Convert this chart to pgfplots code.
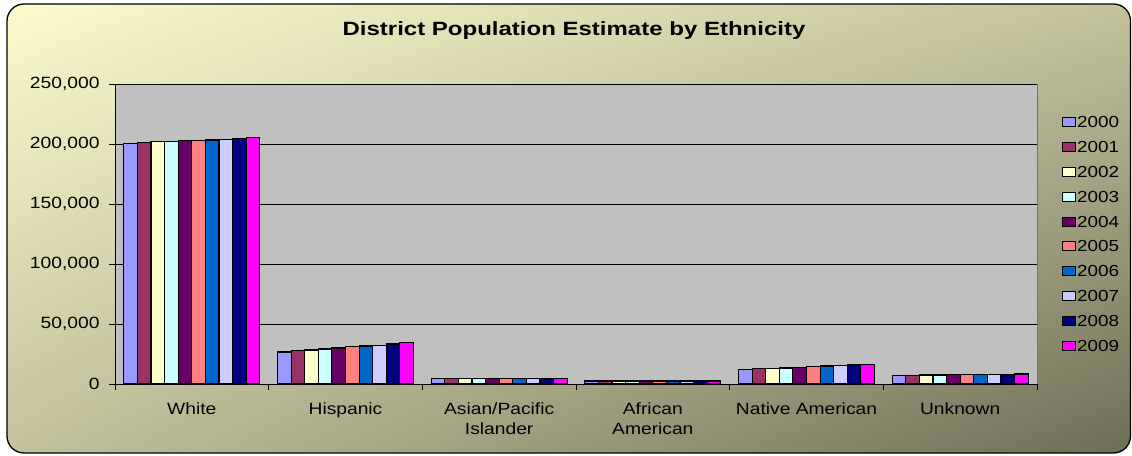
\documentclass[border=0pt]{standalone}
\usepackage{fontspec}
\setmainfont[FakeStretch=1.18]{Liberation Sans}
\newfontfamily\titlefont[FakeStretch=1.25]{Liberation Sans}
\usepackage{pgfplots}
\usepackage{pgfplotstable}
\usetikzlibrary{shadings}
\pgfplotsset{compat=1.18}
\pgfdeclarelayer{background}
\pgfsetlayers{background,main}

\definecolor{cA}{HTML}{9999FF}
\definecolor{cB}{HTML}{993366}
\definecolor{cC}{HTML}{FFFFCC}
\definecolor{cD}{HTML}{CCFFFF}
\definecolor{cE}{HTML}{660066}
\definecolor{cF}{HTML}{FF8080}
\definecolor{cG}{HTML}{0066CC}
\definecolor{cH}{HTML}{CCCCFF}
\definecolor{cI}{HTML}{000080}
\definecolor{cJ}{HTML}{FF00FF}
\definecolor{plotgray}{HTML}{C0C0C0}
\definecolor{bgUL}{HTML}{FCFBCE}
\definecolor{bgMid}{HTML}{C3C29D}
\definecolor{bgLR}{HTML}{6E6E56}

% population by ethnicity (rows) and year (columns)
\pgfplotstableread{
idx y2000  y2001  y2002  y2003  y2004  y2005  y2006  y2007  y2008  y2009
0   200550 201050 201900 201900 202750 203100 203300 203900 204750 205250
1   26700  27800  28300  29200  30000  31100  31700  32200  33300  34500
2   4400   4400   4400   4400   4400   4400   4400   4500   4600   4600
3   2500   2500   2500   2500   2500   2500   2500   2500   2500   2500
4   12200  12800  13100  13300  13900  14400  15000  15500  15800  16400
5   6900   7000   7500   7500   7800   7800   7800   7800   7900   8300
}\poptable

\begin{document}
\begin{tikzpicture}
\begin{axis}[
  name=ax,
  width=922pt, height=300pt, scale only axis,
  ybar=0pt, bar width=13.6pt,
  xmin=-0.5, xmax=5.5, ymin=0, ymax=250000,
  xtick={0,...,5},
  xticklabels={White,Hispanic,{Asian/Pacific\\Islander},{African\\American},Native American,Unknown},
  minor xtick={-0.5,0.5,...,5.5},
  major x tick style={draw=none},
  ytick={0,50000,...,250000},
  scaled y ticks=false,
  yticklabel={\pgfmathprintnumber[fixed,1000 sep={,},assume math mode=true]{\tick}},
  ymajorgrids, grid style={black, line width=0.8pt},
  axis x line*=bottom, axis y line*=left,
  axis line style={-, black, line width=0.9pt},
  tick align=outside, tick style={black, line width=0.9pt},
  major tick length=6pt, minor tick length=6pt,
  axis background/.style={fill=plotgray, draw=black!55, line width=0.8pt},
  tick label style={font=\fontsize{16.3}{20}\selectfont},
  xticklabel style={align=center, yshift=-9pt},
  yticklabel style={xshift=-6pt},
  legend style={at={(axis description cs:1.027,0.5)}, anchor=west, draw=none, fill=none,
    font=\fontsize{16}{20}\selectfont, inner sep=0pt, row sep=11.8pt,
    nodes={inner sep=1pt, text height=11pt, text depth=0pt},
    /tikz/every even column/.append style={column sep=5pt}},
  bar/.style={draw=black, line width=1.1pt, fill=#1,
    legend image code/.code={\draw[fill=#1, draw=black, line width=1pt] (0pt,-4.5pt) rectangle (13pt,4.5pt);}},
]
\addplot[bar=cA] table[x=idx, y=y2000] {\poptable};
\addplot[bar=cB] table[x=idx, y=y2001] {\poptable};
\addplot[bar=cC] table[x=idx, y=y2002] {\poptable};
\addplot[bar=cD] table[x=idx, y=y2003] {\poptable};
\addplot[bar=cE] table[x=idx, y=y2004] {\poptable};
\addplot[bar=cF] table[x=idx, y=y2005] {\poptable};
\addplot[bar=cG] table[x=idx, y=y2006] {\poptable};
\addplot[bar=cH] table[x=idx, y=y2007] {\poptable};
\addplot[bar=cI] table[x=idx, y=y2008] {\poptable};
\addplot[bar=cJ] table[x=idx, y=y2009] {\poptable};
\legend{2000,2001,2002,2003,2004,2005,2006,2007,2008,2009}
\coordinate (pa) at (rel axis cs:0,0);
\end{axis}
% chart frame, measured from the lower left corner of the plot area
\begin{scope}[shift={(pa)}, x=1pt, y=1pt]
\path (-115,-71) rectangle (1017,384);
\node[anchor=base, font=\titlefont\bfseries\fontsize{19.2}{22}\selectfont] at (459,348.3)
  {District Population Estimate by Ethnicity};
\begin{pgfonlayer}{background}
\shade[rounded corners=17pt, upper left=bgUL, upper right=bgMid, lower left=bgMid, lower right=bgLR]
  (-108,-69) rectangle (1015.5,380);
\draw[line width=1.3pt, rounded corners=17pt] (-108,-69) rectangle (1015.5,380);
\end{pgfonlayer}
\end{scope}
\end{tikzpicture}
\end{document}
